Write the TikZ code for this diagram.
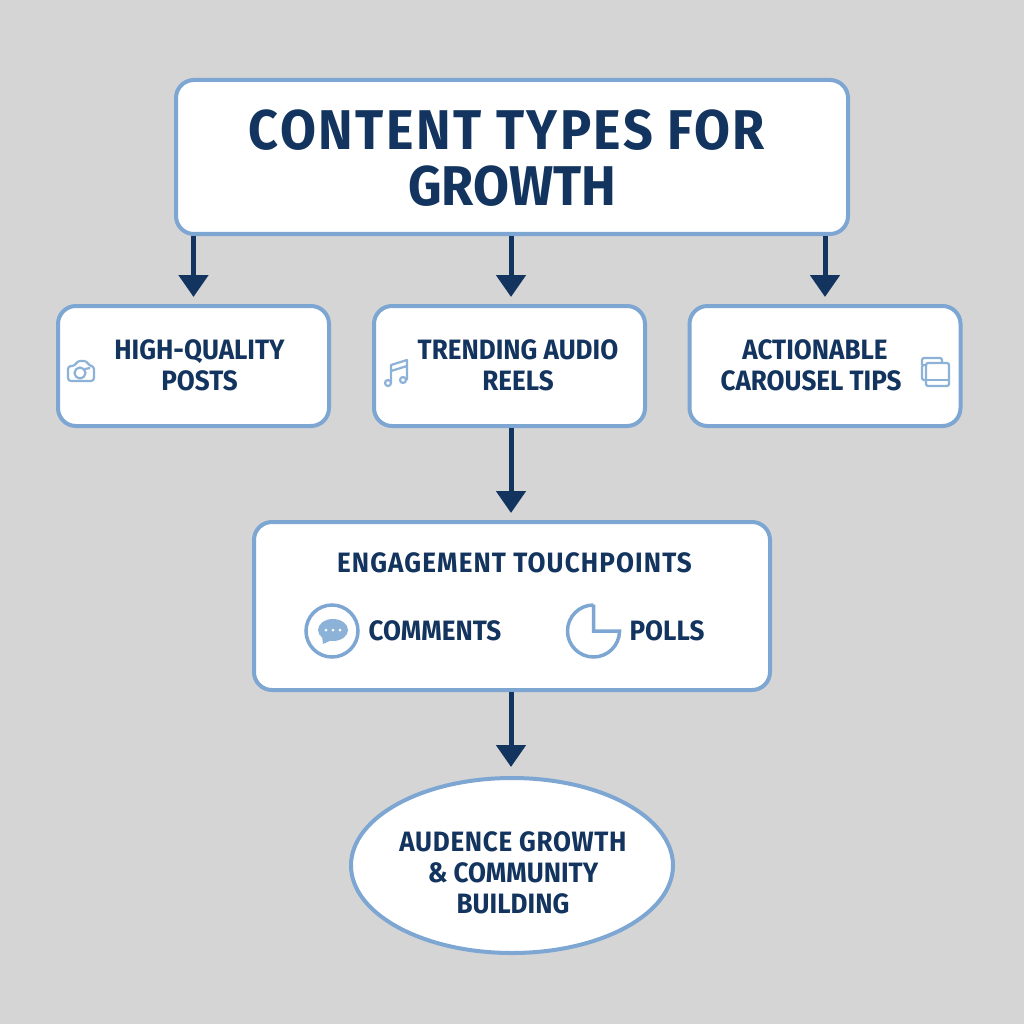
\documentclass[tikz,border=0pt]{standalone}
\usepackage{fontspec}
\setmainfont{Fira Sans}[FakeStretch=0.93]
\usetikzlibrary{positioning}
\usetikzlibrary{arrows.meta}
\usetikzlibrary{shapes.geometric}
\definecolor{pagegrey}{HTML}{D5D5D5}
\definecolor{edgeblue}{HTML}{7DA6D2}
\definecolor{iconblue}{HTML}{8DB2D8}
\definecolor{inkblue}{HTML}{12345E}
\begin{document}
\begin{tikzpicture}[
    x=1pt, y=-1pt,
    box/.style = {draw=edgeblue, fill=white, line width=4pt, rounded corners=18pt, inner sep=0pt},
    smallbox/.style = {box, minimum width=271pt, minimum height=120pt},
    words/.style = {text=inkblue, font=\fontsize{28}{31}\selectfont\bfseries, align=center, inner sep=0pt},
    link/.style = {draw=inkblue, line width=5pt, -{Triangle[length=22pt, width=29pt]}, shorten >=7pt},
    icon/.style = {draw=iconblue, line width=2.2pt, line join=round},
    ]
    \useasboundingbox (0,0) rectangle (1024,1024);
    \fill[pagegrey] (0,0) rectangle (1024,1024);

    % boxes
    \node[box, minimum width=672pt, minimum height=154pt] (title) at (512,157) {};
    \node[smallbox] (posts) at (193.5,366) {};
    \node[smallbox] (reels) at (509.5,366) {};
    \node[smallbox] (tips) at (825,366) {};
    \node[box, minimum width=516pt, minimum height=168pt] (touch) at (512,606) {};
    \node[draw=edgeblue, fill=white, line width=4pt, ellipse, inner sep=0pt, minimum width=322pt, minimum height=175pt] (growth) at (512,865.5) {};

    % labels
    \node[words, font=\fontsize{56}{56}\selectfont\bfseries] (titletext) at (507,158) {{\addfontfeature{LetterSpace=4.4}CONTENT TYPES FOR}\\\hspace*{10pt}GROWTH};
    \node[words] (poststext) at (199.5,365) {HIGH-QUALITY\\POSTS};
    \node[words] (reelstext) at (518,365) {TRENDING AUDIO\\REELS};
    \node[words] (tipstext) at (811,365) {\hspace*{8pt}ACTIONABLE\\CAROUSEL TIPS};
    \node[words] (touchtext) at (514.5,563) {\addfontfeature{LetterSpace=4}ENGAGEMENT TOUCHPOINTS};
    \node[words] (commentstext) at (435,631) {COMMENTS};
    \node[words] (pollstext) at (667,631) {POLLS};
    \node[words] (growthtext) at (513,873) {{\addfontfeature{LetterSpace=2.5}AUDENCE GROWTH}\\\&~COMMUNITY\\BUILDING};

    % arrows
    \draw[link] (title.south -| posts.north) -- (posts.north);
    \draw[link] ([xshift=-1pt]title.south) -- ([xshift=-1pt]title.south |- reels.north);
    \draw[link] (title.south -| tips.north) -- (tips.north);
    \draw[link] ([xshift=-1pt]reels.south -| touch.north) -- ([xshift=-1pt]touch.north);
    \draw[link, shorten >=9pt] ([xshift=-1pt]touch.south) -- ([xshift=-1pt]growth.north);

    % camera
    \draw[icon, rounded corners=3pt] (68,366) -- (75,366) -- (77,361) -- (87,361) -- (89,366) -- (94,366) -- (94,381) -- (68,381) -- cycle;
    \draw[icon] (80,373) circle (5.5pt);
    \draw[icon] (85,369) -- (90,368);
    % music note
    \draw[icon] (388,383) circle (3pt) (403,380) circle (3pt);
    \draw[icon] (391,383) -- (391,365) -- (407,360) -- (407,380) (391,371) -- (407,366);
    % copies
    \draw[icon, rounded corners=2pt] (927,365) -- (922,365) -- (922,380) -- (926,380);
    \draw[icon, rounded corners=2pt] (922,365) -- (922,358) -- (942,358) -- (942,363);
    \draw[icon, rounded corners=2pt] (926,363) rectangle (949,386);
    \draw[icon] (926,380) -- (949,380);
    % speech circle
    \draw[edgeblue, line width=3.5pt] (332,631) circle (26pt);
    \fill[iconblue] (333,630) ellipse (15pt and 11pt);
    \fill[iconblue] (322,636) -- (323,644) -- (332,640) -- cycle;
    \fill[white] (326,630) circle (1.5pt) (333,630) circle (1.5pt) (340,630) circle (1.5pt);
    % pie
    \draw[edgeblue, line width=3.5pt, line join=miter] (593.5,604.5) -- (593.5,631) -- (619.5,631) arc[start angle=0, end angle=-270, radius=26pt] -- cycle;
\end{tikzpicture}
\end{document}
